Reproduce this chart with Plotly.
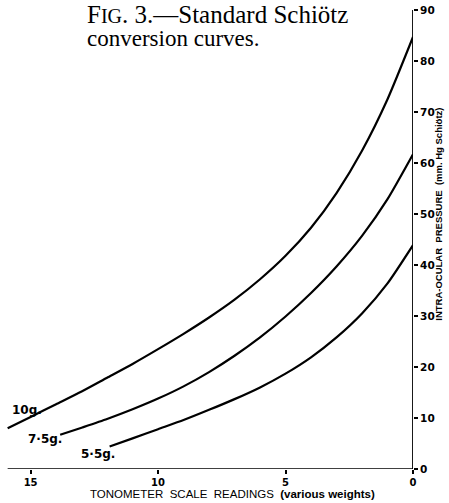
import plotly.graph_objects as go

# Tonometer scale readings (x) and intra-ocular pressure (y, mm Hg)
scale_10g = [15.9, 15, 14, 13, 12, 11, 10, 9, 8, 7, 6, 5, 4, 3, 2, 1, 0]
press_10g = [8.0, 10.2, 12.7, 15.2, 17.9, 20.6, 23.5, 26.5, 29.7, 33.2, 37.2, 41.8,
             47.3, 54.1, 62.4, 72.5, 84.7]

scale_75g = [13.84, 13, 12, 11, 10, 9, 8, 7, 6, 5, 4, 3, 2, 1, 0]
press_75g = [6.7, 8.1, 9.8, 11.7, 13.8, 16.2, 19.0, 22.2, 25.8, 29.9, 34.5, 39.7,
             45.7, 52.9, 61.7]

scale_55g = [11.9, 11, 10, 9, 8, 7, 6, 5, 4, 3, 2, 1, 0]
press_55g = [4.4, 6.0, 7.8, 9.6, 11.6, 13.7, 16.0, 18.7, 21.9, 25.8, 30.5, 36.4, 43.9]

x_ticks = [15, 10, 5, 0]
x_tick_labels = ["15", "10", "5", "0"]
y_ticks = [0, 10, 20, 30, 40, 50, 60, 70, 80, 90]
y_tick_labels = ["0", "10", "20", "30", "40", "50", "60", "70", "80", "90"]

curve_labels = ["10g.", "7·5g.", "5·5g."]

fig = go.Figure()
for xs, ys in [(scale_10g, press_10g), (scale_75g, press_75g), (scale_55g, press_55g)]:
    fig.add_trace(go.Scatter(x=xs, y=ys, mode="lines",
                             line=dict(color="black", width=2.2, shape="spline", smoothing=0.6),
                             showlegend=False, hoverinfo="skip"))

font_sans = "Liberation Sans"
fig.update_layout(
    width=449, height=503,
    margin=dict(l=0, r=36, t=10, b=34),
    paper_bgcolor="white", plot_bgcolor="white",
    xaxis=dict(range=[16.2, 0], showgrid=False, zeroline=False, showline=False,
               tickvals=x_ticks, ticktext=x_tick_labels, ticks="outside", ticklen=4,
               tickwidth=1.5, tickcolor="black",
               tickfont=dict(family="DejaVu Sans", size=10, color="black", weight="bold")),
    yaxis=dict(range=[0, 90], side="right", showgrid=False, zeroline=False, showline=False,
               tickvals=y_ticks, ticktext=y_tick_labels, ticks="outside", ticklen=4,
               tickwidth=1.5, tickcolor="black",
               tickfont=dict(family="DejaVu Sans", size=10.5, color="black", weight="bold")),
)

# axis lines
fig.add_shape(type="line", xref="x", yref="y", x0=15.9, x1=0, y0=0, y1=0,
              line=dict(color="black", width=1.6))
fig.add_shape(type="line", xref="x", yref="y", x0=0, x1=0, y0=0, y1=90,
              line=dict(color="black", width=1.8))

# curve labels
lab_font = dict(family="DejaVu Sans", size=12, color="black", weight="bold")
fig.add_annotation(x=15.15, y=11.6, xref="x", yref="y", text=curve_labels[0],
                   showarrow=False, font=lab_font)
fig.add_annotation(x=14.45, y=5.8, xref="x", yref="y", text=curve_labels[1],
                   showarrow=False, font=lab_font)
fig.add_annotation(x=12.35, y=3.0, xref="x", yref="y", text=curve_labels[2],
                   showarrow=False, font=lab_font)

# axis titles
fig.add_annotation(x=0.564, y=-0.0534, xref="paper", yref="paper", yanchor="middle",
                   text="TONOMETER  SCALE  READINGS  <b>(various weights)</b>",
                   showarrow=False, font=dict(family=font_sans, size=11.5, color="black"))
fig.add_annotation(x=446 / 413, y=0.555, xref="paper", yref="paper", textangle=-90,
                   text="<b>INTRA-OCULAR  PRESSURE  (mm. Hg Schiötz)</b>",
                   showarrow=False, font=dict(family=font_sans, size=9.5, color="black"))

# figure caption
serif = "Liberation Serif"
fig.add_annotation(x=86 / 413, y=(469 - 0) / 459, xref="paper", yref="paper", xanchor="left",
                   yanchor="top", borderpad=0,
                   text="F<span style='font-size:20px'>IG</span>. 3.—Standard Schiötz",
                   showarrow=False, font=dict(family=serif, size=25, color="black"))
fig.add_annotation(x=86 / 413, y=(469 - 25) / 459, xref="paper", yref="paper", xanchor="left",
                   yanchor="top", borderpad=0, text="conversion curves.",
                   showarrow=False, font=dict(family=serif, size=23, color="black"))

fig.write_html("out.html")
